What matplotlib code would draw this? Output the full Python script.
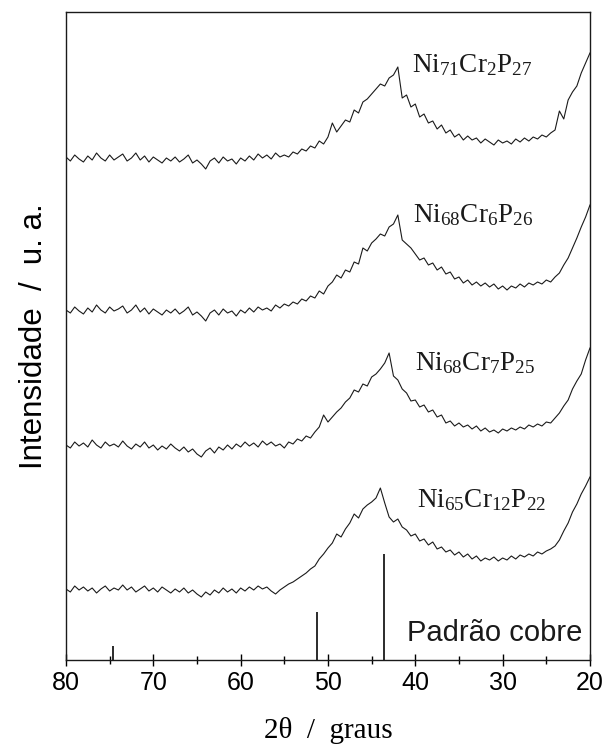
import numpy as np
import matplotlib
matplotlib.use("Agg")
import matplotlib.pyplot as plt
from matplotlib.ticker import MultipleLocator

plt.rcParams['mathtext.fontset'] = 'custom'
plt.rcParams['mathtext.rm'] = 'Liberation Serif'
plt.rcParams['mathtext.it'] = 'Liberation Serif:italic'

# 2theta grid (degrees), 80 -> 20 in 0.5 steps
two_theta = np.linspace(80, 20, 121)

# Intensities (arbitrary units, already vertically offset as in the figure)
ni71 = [503, 499, 505, 501, 498, 504, 500, 507, 502, 499,
        505, 500, 503, 506, 499, 502, 507, 500, 504, 498,
        503, 500, 497, 502, 499, 503, 498, 501, 505, 497,
        500, 496, 491, 499, 502, 497, 503, 499, 501, 496,
        502, 499, 504, 500, 506, 502, 505, 501, 507, 503,
        505, 503, 508, 506, 511, 509, 514, 512, 519, 516,
        523, 537, 528, 534, 540, 538, 550, 547, 558, 561,
        566, 571, 576, 574, 582, 585, 593, 562, 565, 553,
        556, 543, 546, 537, 539, 531, 535, 527, 530, 523,
        526, 520, 524, 520, 522, 517, 521, 518, 515, 520,
        517, 519, 516, 521, 518, 522, 519, 523, 521, 525,
        523, 527, 530, 549, 541, 560, 568, 574, 587, 597,
        607]
ni68cr6 = [350, 347, 353, 349, 346, 352, 348, 355, 350, 347,
           353, 349, 351, 354, 347, 350, 355, 348, 352, 346,
           351, 348, 345, 350, 347, 351, 346, 349, 353, 345,
           348, 344, 339, 347, 350, 345, 351, 347, 349, 344,
           350, 347, 352, 348, 353, 350, 352, 349, 355, 352,
           356, 354, 358, 356, 361, 359, 364, 362, 369, 366,
           374, 378, 385, 382, 390, 388, 398, 396, 412, 409,
           417, 421, 426, 424, 433, 436, 445, 420, 416, 412,
           406, 400, 402, 395, 397, 390, 393, 386, 388, 381,
           383, 377, 380, 375, 378, 374, 377, 373, 376, 371,
           374, 370, 374, 372, 376, 373, 377, 375, 378, 376,
           380, 378, 383, 387, 395, 402, 412, 422, 433, 443,
           455]
ni68cr7 = [215, 212, 218, 214, 217, 213, 220, 215, 212, 218,
           214, 216, 213, 219, 214, 211, 216, 213, 218, 212,
           215, 210, 214, 211, 216, 212, 209, 213, 208, 211,
           206, 203, 209, 212, 207, 213, 210, 215, 211, 216,
           213, 218, 214, 217, 213, 219, 215, 218, 214, 216,
           212, 218, 216, 221, 219, 224, 222, 228, 233, 245,
           238, 243, 248, 252, 258, 262, 270, 268, 276, 274,
           283, 286, 291, 297, 307, 284, 280, 271, 267, 259,
           260, 253, 255, 248, 250, 243, 245, 237, 239, 234,
           237, 233, 235, 231, 234, 229, 232, 228, 230, 227,
           231, 229, 232, 230, 233, 231, 235, 233, 236, 234,
           238, 237, 242, 247, 254, 260, 271, 279, 286, 300,
           312]
ni65 = [71, 68, 74, 70, 73, 69, 72, 67, 71, 74,
        69, 72, 70, 75, 70, 73, 68, 71, 74, 69,
        72, 68, 73, 70, 67, 71, 68, 72, 67, 70,
        66, 63, 68, 65, 70, 67, 72, 68, 71, 67,
        72, 69, 73, 70, 74, 71, 73, 69, 66, 70,
        73, 76, 78, 81, 84, 87, 91, 94, 101, 106,
        112, 117, 126, 123, 131, 137, 146, 142, 151, 155,
        158, 162, 172, 157, 143, 138, 141, 133, 130, 124,
        126, 119, 121, 115, 118, 111, 113, 108, 110, 105,
        108, 103, 106, 101, 104, 99, 102, 100, 103, 99,
        102, 100, 104, 101, 105, 103, 106, 104, 108, 106,
        109, 111, 114, 120, 129, 137, 148, 156, 166, 174,
        183]

series = [ni71, ni68cr6, ni68cr7, ni65]
labels = [r'$\mathrm{Ni_{71}Cr_{2}P_{27}}$', r'$\mathrm{Ni_{68}Cr_{6}P_{26}}$',
          r'$\mathrm{Ni_{68}Cr_{7}P_{25}}$', r'$\mathrm{Ni_{65}Cr_{12}P_{22}}$']
label_x = [40.4, 40.3, 40.0, 39.8]
label_y = [595, 445, 297, 160]

# Copper reference pattern
cu_angles = [74.6, 51.2, 43.6]
cu_heights = [14, 48, 106]

fig = plt.figure(figsize=(6.12, 7.5), dpi=100)
ax = fig.add_axes([0.1078, 0.12, 0.8562, 0.864])

for s in series:
    ax.plot(two_theta, s, color='#1a1a1a', lw=0.8)
for xl, yl, lab in zip(label_x, label_y, labels):
    ax.text(xl, yl, lab, fontsize=19.5, ha='left', va='center', color='#1a1a1a')

ax.vlines(cu_angles, 0, cu_heights, color='#1a1a1a', lw=1.3)
ax.text(41.0, 27, 'Padrão cobre', fontsize=21, family='Liberation Sans',
        ha='left', va='center', color='#1a1a1a')

ax.set_xlim(80, 20)
ax.set_ylim(0, 648)
ax.xaxis.set_major_locator(MultipleLocator(10))
ax.xaxis.set_minor_locator(MultipleLocator(5))
ax.tick_params(axis='x', which='major', direction='inout', length=8, width=1.0,
               labelsize=18, pad=4)
ax.tick_params(axis='x', which='minor', direction='inout', length=6, width=1.0)
ax.set_yticks([])
for lab in ax.get_xticklabels():
    lab.set_family('Liberation Sans')
for sp in ax.spines.values():
    sp.set_linewidth(1.0)
    sp.set_color('#1a1a1a')

ax.set_xlabel('2θ  /  graus', fontsize=21, family='Liberation Serif', labelpad=16)
ax.set_ylabel('Intensidade  /  u. a.', fontsize=22.5, family='Liberation Sans', labelpad=12)

fig.savefig('out.png', dpi=100)
